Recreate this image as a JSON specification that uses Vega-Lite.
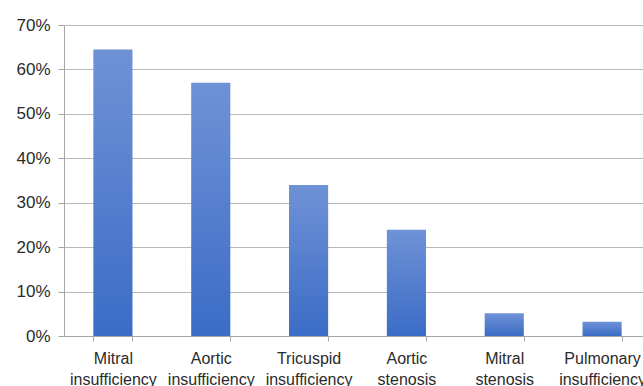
{
  "$schema": "https://vega.github.io/schema/vega-lite/v6.json",
  "width": 579,
  "height": 311,
  "autosize": {"type": "none"},
  "padding": {"left": 64, "top": 25, "right": 0, "bottom": 50},
  "background": "white",
  "config": {
    "view": {"stroke": null},
    "font": "Liberation Sans",
    "axis": {
      "labelFont": "Liberation Sans",
      "labelColor": "#2b2b2b",
      "domainColor": "#a6a6a6",
      "tickColor": "#a6a6a6",
      "gridColor": "#b8b8b8",
      "title": null
    }
  },
  "data": {
    "values": [
      {"condition": "Mitral insufficiency", "share": 0.645},
      {"condition": "Aortic insufficiency", "share": 0.57},
      {"condition": "Tricuspid insufficiency", "share": 0.34},
      {"condition": "Aortic stenosis", "share": 0.239},
      {"condition": "Mitral stenosis", "share": 0.051},
      {"condition": "Pulmonary insufficiency", "share": 0.032}
    ]
  },
  "mark": {
    "type": "bar",
    "color": {
      "gradient": "linear",
      "x1": 0, "y1": 0, "x2": 0, "y2": 1,
      "stops": [
        {"offset": 0, "color": "#6f92d6"},
        {"offset": 1, "color": "#3b6cc6"}
      ]
    }
  },
  "encoding": {
    "x": {
      "field": "condition",
      "type": "nominal",
      "sort": null,
      "scale": {"range": [0, 587], "paddingInner": 0.6, "paddingOuter": 0.3},
      "axis": {
        "labelAngle": 0,
        "labelFontSize": 16,
        "labelLineHeight": 21,
        "labelBaseline": "top",
        "labelPadding": 9,
        "tickSize": 5,
        "tickBand": "extent",
        "labelExpr": "split(datum.label, ' ')",
        "grid": false
      }
    },
    "y": {
      "field": "share",
      "type": "quantitative",
      "scale": {"domain": [0, 0.7], "nice": false},
      "axis": {
        "values": [0, 0.1, 0.2, 0.3, 0.4, 0.5, 0.6, 0.7],
        "format": ".0%",
        "labelFontSize": 17,
        "labelPadding": 8,
        "tickSize": 6,
        "grid": true
      }
    }
  }
}
